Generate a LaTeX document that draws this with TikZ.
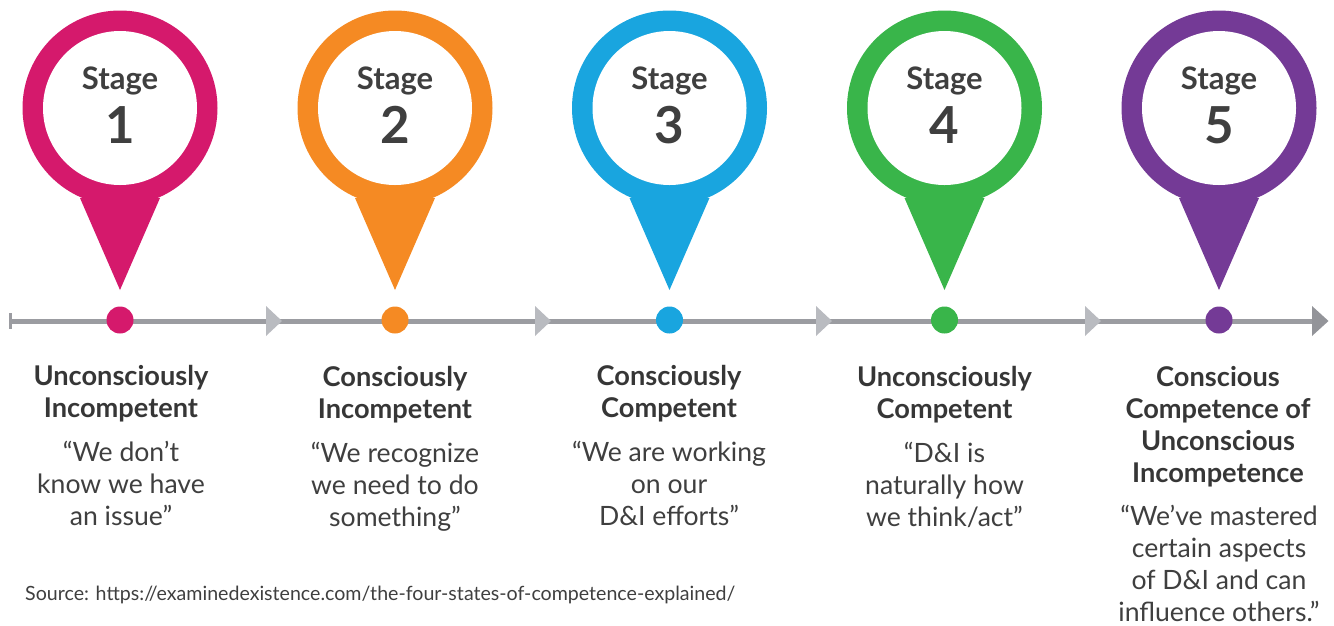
\documentclass[tikz,border=0pt]{standalone}
\usepackage{fontspec}
\setmainfont{Lato}
\usepackage{xcolor}
\usetikzlibrary{positioning, calc}
\definecolor{pinA}{HTML}{D5196C}
\definecolor{pinB}{HTML}{F58A23}
\definecolor{pinC}{HTML}{19A5DF}
\definecolor{pinD}{HTML}{39B54A}
\definecolor{pinE}{HTML}{743A96}
\definecolor{axisgray}{HTML}{9B9CA1}
\definecolor{headgray}{HTML}{B9BBC0}
\definecolor{inkgray}{HTML}{3F3F3F}
\tikzset{
  stagetext/.style={text=inkgray,font=\bfseries\fontsize{31}{31}\selectfont,inner sep=0pt},
  numtext/.style={text=inkgray,font=\bfseries\fontsize{51}{51}\selectfont,inner sep=0pt},
  titletext/.style={text=inkgray!85!black,font=\bfseries\fontsize{27.2}{32}\selectfont,align=center,inner sep=0pt,anchor=north},
  quotetext/.style={text=inkgray,font=\fontsize{26.6}{32}\selectfont,align=center,inner sep=0pt,anchor=north},
}
\begin{document}
\begin{tikzpicture}[x=1pt,y=-1pt]
  \useasboundingbox (0,0) rectangle (1334,625);
  \coordinate (tail) at (10,321);
  \coordinate (head1) at (266,321);
  \coordinate (head2) at (535,321);
  \coordinate (head3) at (816,321);
  \coordinate (head4) at (1085,321);
  \coordinate (head5) at (1312,321);
  \draw[axisgray,line width=5pt] (tail)--(head5);%timeline
  \draw[axisgray,line width=3pt] ($(tail)+(0,-8)$)--($(tail)+(0,8)$);
  \foreach \n in {1,2,3,4}
    \fill[headgray] ($(head\n)+(0,-15)$)--($(head\n)+(16,0)$)--($(head\n)+(0,15)$)--cycle;
  \fill[axisgray!95!black] ($(head5)+(0,-15)$)--($(head5)+(16.5,0)$)--($(head5)+(0,15)$)--cycle;
  \foreach \n/\x/\c in {1/120/pinA,2/395/pinB,3/669.5/pinC,4/944.5/pinD,5/1219/pinE}{
    \fill[\c] (\x,108) circle[radius=97.5];
    \fill[\c] (\x-40,198)--(\x,290)--(\x+40,198)--cycle;
    \fill[white] (\x,108) circle[radius=77];
    \node[stagetext] (stage\n) at (\x,81) {Stage};
    \node[numtext] (num\n) at (\x,125) {\n};
    \fill[\c] (\x,320) circle[radius=13.5];
  }
  \node[titletext] (title1) at (121,365) {Unconsciously\\Incompetent};
  \node[titletext] (title2) at (395,366) {Consciously\\Incompetent};
  \node[titletext] (title3) at (669,365) {Consciously\\Competent};
  \node[titletext] (title4) at (944.5,366) {Unconsciously\\Competent};
  \node[titletext] (title5) at (1218,366) {Conscious\\Competence of\\Unconscious\\Incompetence};
  \node[quotetext] (quote1) at (121,441) {“We don’t\\know we have\\an issue”};
  \node[quotetext] (quote2) at (395,442) {“We recognize\\we need to do\\something”};
  \node[quotetext] (quote3) at (669,441) {“We are working\\on our\\D\&I efforts”};
  \node[quotetext] (quote4) at (944.5,442) {“D\&I is\\naturally how\\we think/act”};
  \node[quotetext] (quote5) at (1219,504.5) {“We’ve mastered\\certain aspects\\of D\&I and can\\influence others.”};
  \node[text=inkgray,font=\fontsize{19.6}{19.6}\selectfont,inner sep=0pt,anchor=west] (source) at (25,595) {Source: https://examinedexistence.com/the-four-states-of-competence-explained/};
\end{tikzpicture}
\end{document}
